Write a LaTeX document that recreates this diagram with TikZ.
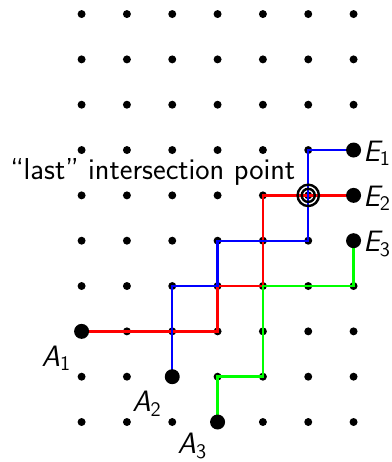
\documentclass[tikz,border=0pt]{standalone}
\usepackage{xcolor}
\definecolor{pgreen}{RGB}{0,255,0}
\begin{document}
\begin{tikzpicture}[x=1cm,y=1cm,
  gdot/.style={circle,fill=black,inner sep=0pt,minimum size=5pt},
  bdot/.style={circle,fill=black,inner sep=0pt,minimum size=9.4pt},
  route/.style={line width=1.5pt},
  lab/.style={font=\fontsize{18.5}{22}\selectfont\sffamily\itshape,inner sep=1pt},
  alab/.style={lab,anchor=north east,xshift=-2pt,yshift=-4.5pt},
  elab/.style={lab,anchor=west,yshift=-2pt},
  txt/.style={font=\fontsize{19}{22}\selectfont\sffamily,inner sep=0pt}]
\useasboundingbox (-1.80,-0.882) rectangle (6.845,9.31);
\foreach \i in {0,...,6}{
  \foreach \j in {0,...,9}{
    \node[gdot] (g-\i-\j) at (\i,\j) {};
  }
}
% routes
\draw[route,red] (g-0-2.center) -- (g-3-2.center) -- (g-3-3.center) -- (g-4-3.center) -- (g-4-5.center) -- (g-6-5.center);
\draw[route,blue] (g-2-1.center) -- (g-2-3.center) -- (g-3-3.center) -- (g-3-4.center) -- (g-5-4.center) -- (g-5-6.center) -- (g-6-6.center);
\draw[route,pgreen] (g-3-0.center) -- (g-3-1.center) -- (g-4-1.center) -- (g-4-3.center) -- (g-6-3.center) -- (g-6-4.center);
% end points
\node[bdot] (A1) at (g-0-2) {};
\node[bdot] (A2) at (g-2-1) {};
\node[bdot] (A3) at (g-3-0) {};
\node[bdot] (E1) at (g-6-6) {};
\node[bdot] (E2) at (g-6-5) {};
\node[bdot] (E3) at (g-6-4) {};
% intersection marker
\draw[route] (g-5-5.center) circle (6.7pt) circle (4.1pt);
% labels
\node[alab] (lA1) at (A1.south west) {A\textsubscript{\upshape 1}};
\node[alab] (lA2) at (A2.south west) {A\textsubscript{\upshape 2}};
\node[alab,yshift=2pt] (lA3) at (A3.south west) {A\textsubscript{\upshape 3}};
\node[elab] (lE1) at (E1.east) {E\textsubscript{\upshape 1}};
\node[elab] (lE2) at (E2.east) {E\textsubscript{\upshape 2}};
\node[elab] (lE3) at (E3.east) {E\textsubscript{\upshape 3}};
\node[txt,anchor=base east] (note) at (4.72,5.354) {“last” intersection point};
\end{tikzpicture}
\end{document}
